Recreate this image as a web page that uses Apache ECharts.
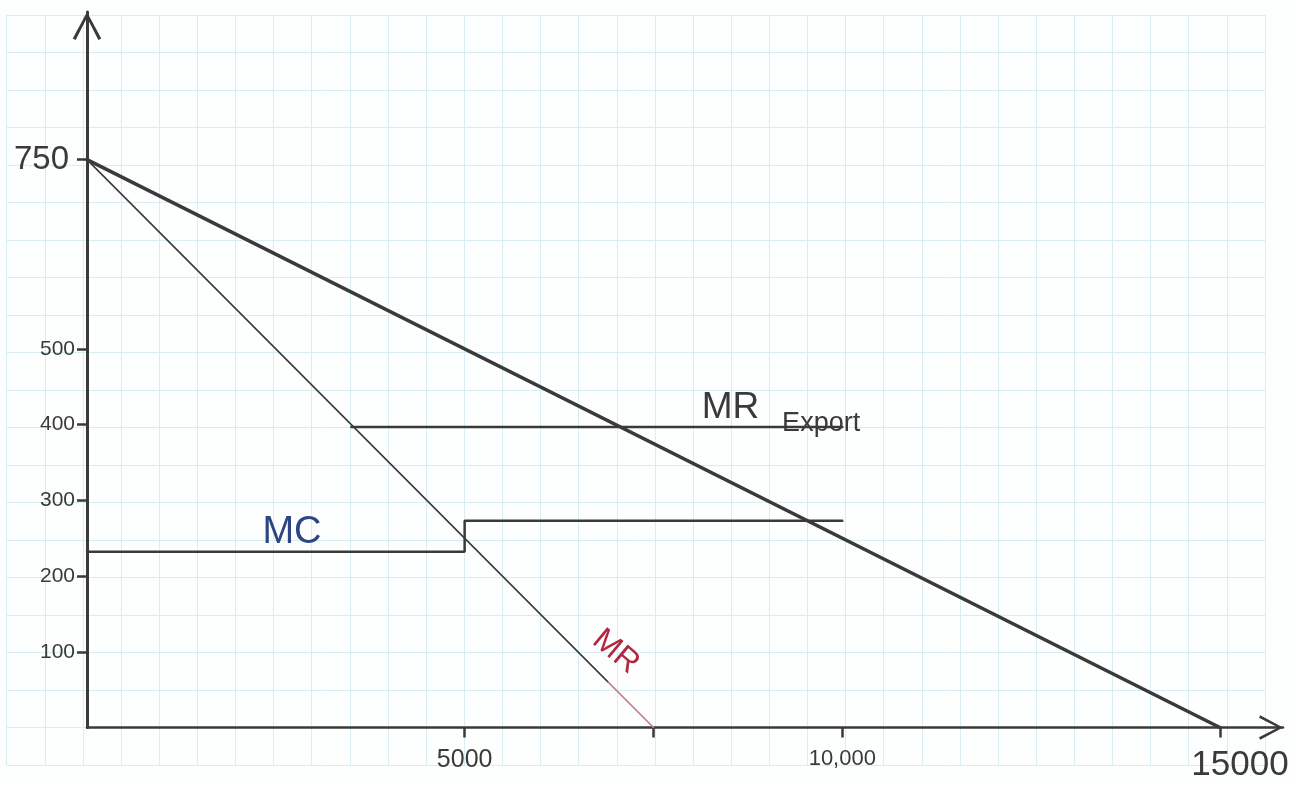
<!DOCTYPE html>
<html>
<head>
<meta charset="utf-8">
<script src="https://cdn.jsdelivr.net/npm/echarts@6/dist/echarts.min.js"></script>
<style>
  html, body { margin: 0; padding: 0; background: #fdfefe; }
  #chart { width: 1292px; height: 785px; }
</style>
</head>
<body>
<div id="chart"></div>
<script>
// curves: quantity on x, price on y
const demandQ = [0, 15000];
const demandP = [750, 0];
const mrQ = [0, 6900];
const mrP = [750, 60];
const mrTailQ = [6900, 7500]; // the bit drawn in red pencil
const mrTailP = [60, 0];
const mrExportQ = [3500, 10000];
const mrExportP = [397, 397];
const mcQ = [0, 5000, 5000, 10000];
const mcP = [232, 232, 273, 273];

const xTickValues = [5000, 7500, 10000, 15000];
const xTickLabels = ['5000', '', '10,000', '15000'];
const yTickValues = [100, 200, 300, 400, 500, 750];
const yTickLabels = ['100', '200', '300', '400', '500', '750'];

const pencil = '#3a3a3a';
const paper = '#d9eef3';
const font = 'Liberation Sans';
const arrow = 'path://M0,28 L15,0 L30,28 L27,29.5 L15,6 L3,29.5 Z';

function pairs(xs, ys) {
  return xs.map((x, i) => [x, ys[i]]);
}

function line(name, xs, ys, color, width, extra) {
  return Object.assign({
    name: name,
    type: 'line',
    xAxisIndex: 1,
    yAxisIndex: 1,
    data: pairs(xs, ys),
    symbol: 'none',
    lineStyle: { color: color, width: width, cap: 'round' },
    silent: true,
    z: 5
  }, extra || {});
}

// invisible anchor carrying a handwritten-style label
function note(items) {
  return {
    symbol: 'circle',
    symbolSize: 1,
    itemStyle: { color: 'rgba(0,0,0,0)' },
    silent: true,
    label: { show: true, position: 'inside', fontFamily: font },
    data: items.map(it => ({
      coord: it.coord,
      label: { formatter: it.text, color: it.color, fontSize: it.size, rotate: it.rotate || 0 }
    }))
  };
}

const chart = echarts.init(document.getElementById('chart'));

const option = {
  backgroundColor: '#fdfefe',
  animation: false,
  grid: [
    // graph paper behind everything
    { left: 6.7, top: 15, width: 1258.3, height: 750 },
    // the sketched axes
    { left: 87, top: 12, right: 9, bottom: 57.5 }
  ],
  xAxis: [
    {
      gridIndex: 0, type: 'value', min: 0, max: 33, interval: 1,
      axisLine: { show: false }, axisTick: { show: false }, axisLabel: { show: false },
      splitLine: { show: true, lineStyle: { color: paper, width: 1 } }
    },
    {
      gridIndex: 1, type: 'value', min: 0, max: 15835,
      axisLine: {
        show: true,
        lineStyle: { color: pencil, width: 2.5 },
        symbol: ['none', arrow],
        symbolSize: [26, 24],
        symbolOffset: [0, -12]
      },
      axisTick: {
        show: true, customValues: xTickValues, length: 10,
        lineStyle: { color: pencil, width: 2.5 }
      },
      axisLabel: {
        show: true,
        customValues: xTickValues,
        margin: 20,
        color: pencil,
        fontFamily: font,
        fontSize: 22,
        formatter: function (v) {
          const i = xTickValues.indexOf(v);
          const t = i < 0 ? '' : xTickLabels[i];
          if (v === 15000) return '{big|' + t + '}';
          if (v === 5000) return '{mid|' + t + '}';
          return t;
        },
        rich: {
          mid: { fontSize: 25, fontFamily: font, color: pencil },
          big: { fontSize: 35, fontFamily: font, color: pencil, padding: [0, 0, 0, 40] }
        }
      },
      splitLine: { show: false }
    }
  ],
  yAxis: [
    {
      gridIndex: 0, type: 'value', min: 0, max: 20, interval: 1,
      axisLine: { show: false }, axisTick: { show: false }, axisLabel: { show: false },
      splitLine: { show: true, lineStyle: { color: paper, width: 1 } }
    },
    {
      gridIndex: 1, type: 'value', min: 0, max: 945,
      axisLine: {
        show: true,
        lineStyle: { color: pencil, width: 3 },
        symbol: ['none', arrow],
        symbolSize: [30, 28],
        symbolOffset: [0, -14]
      },
      axisTick: {
        show: true, customValues: yTickValues, length: 10,
        lineStyle: { color: pencil, width: 2.5 }
      },
      axisLabel: {
        show: true,
        customValues: yTickValues,
        margin: 12,
        color: pencil,
        fontFamily: font,
        fontSize: 21,
        formatter: function (v) {
          const i = yTickValues.indexOf(v);
          const t = i < 0 ? '' : yTickLabels[i];
          return v === 750 ? '{big|' + t + '}' : t;
        },
        rich: { big: { fontSize: 33, fontFamily: font, color: pencil, padding: [0, 6, 0, 0] } }
      },
      splitLine: { show: false }
    }
  ],
  series: [
    line('Demand', demandQ, demandP, pencil, 3.5),
    line('MR', mrQ, mrP, pencil, 1.6),
    line('MR tail', mrTailQ, mrTailP, '#c97b8c', 1.6, {
      markPoint: note([{ text: 'MR', coord: [7000, 100], color: '#b3263e', size: 32, rotate: -40 }])
    }),
    line('MR Export', mrExportQ, mrExportP, pencil, 2.5, {
      markPoint: note([
        { text: 'MR', coord: [8520, 422], color: pencil, size: 37 },
        { text: 'Export', coord: [9720, 402], color: pencil, size: 27 }
      ])
    }),
    line('MC', mcQ, mcP, pencil, 2.5, {
      markPoint: note([{ text: 'MC', coord: [2714, 258], color: '#2b4681', size: 38 }])
    })
  ]
};

chart.setOption(option);
</script>
</body>
</html>
